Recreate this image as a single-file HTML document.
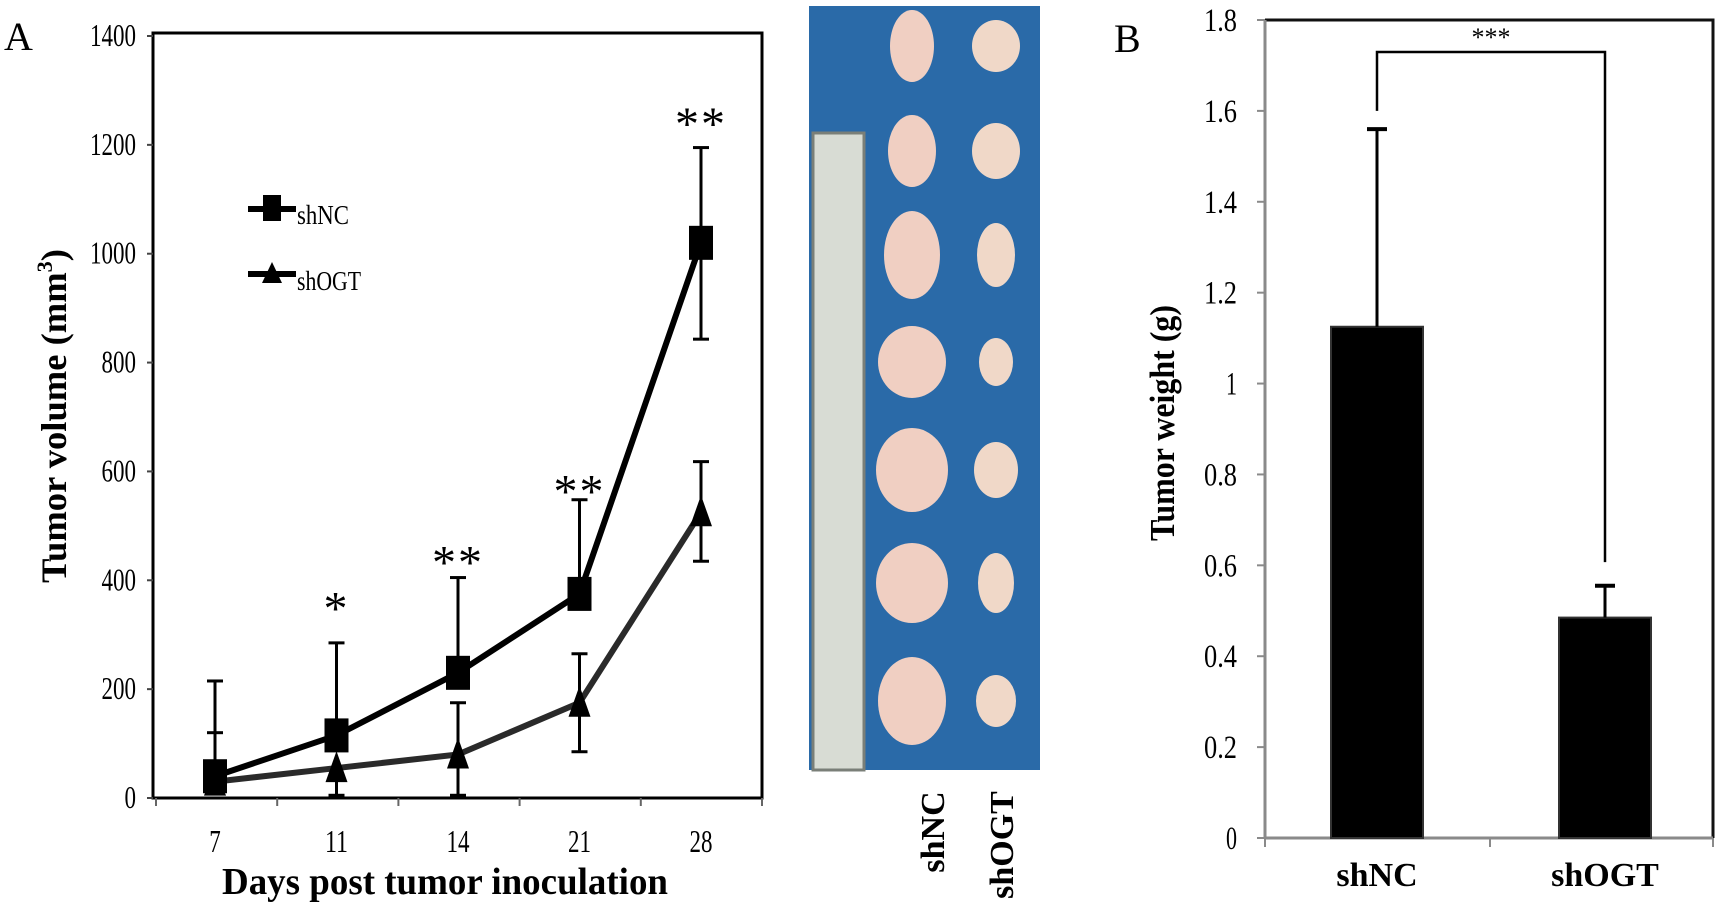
<!DOCTYPE html>
<html><head><meta charset="utf-8"><style>
html,body{margin:0;padding:0;background:#fff}
svg{display:block;font-family:"Liberation Serif",serif}
</style></head><body>
<svg id="fig" width="1724" height="909" viewBox="0 0 1724 909" xmlns="http://www.w3.org/2000/svg">
<text x="4" y="50" font-size="40">A</text>
<rect x="153" y="33" width="609" height="765" fill="none" stroke="#000" stroke-width="3"/>
<g id="ga"></g>
<text transform="translate(66,416) rotate(-90)" text-anchor="middle" font-size="36" font-weight="bold" textLength="334" lengthAdjust="spacingAndGlyphs">Tumor volume (mm<tspan font-size="22" dy="-14">3</tspan><tspan dy="14">)</tspan></text>
<text x="445" y="894" text-anchor="middle" font-size="38" font-weight="bold" textLength="446" lengthAdjust="spacingAndGlyphs">Days post tumor inoculation</text>
<g>
<line x1="248" y1="209" x2="296" y2="209" stroke="#000" stroke-width="6"/>
<rect x="263" y="195" width="18" height="26" fill="#000"/>
<text x="297" y="224" font-size="27" textLength="52" lengthAdjust="spacingAndGlyphs">shNC</text>
<line x1="248" y1="274" x2="296" y2="274" stroke="#000" stroke-width="6"/>
<polygon points="272,262 282,283 262,283" fill="#000"/>
<text x="297" y="290" font-size="27" textLength="64" lengthAdjust="spacingAndGlyphs">shOGT</text>
</g>
<g>
<rect x="809" y="6" width="231" height="764" fill="#2a6aa8"/>
<rect x="813" y="133" width="51" height="637" fill="#d8dcd4" stroke="#7a7f78" stroke-width="3"/>
<g id="tumors"></g>
</g>
<text transform="translate(944,832) rotate(-90)" text-anchor="middle" font-size="34" font-weight="bold">shNC</text>
<text transform="translate(1013,845) rotate(-90)" text-anchor="middle" font-size="34" font-weight="bold">shOGT</text>
<text x="1114" y="52" font-size="40">B</text>
<g id="gb"></g>
<script>
const days=["7","11","14","21","28"];
const shNC=[40,115,230,375,1020];
const shNCup=[215,285,405,548,1195];
const shNClo=[40,115,230,375,843];
const shOGT=[30,55,80,175,525];
const shOGTup=[120,55,175,265,618];
const shOGTlo=[30,5,5,85,435];
const stars=["","*","**","**","**"];
const starY=[0,370,455,585,1260];
const yTicksA=[0,200,400,600,800,1000,1200,1400];
const groups=["shNC","shOGT"];
const weights=[1.125,0.485];
const weightErr=[1.56,0.555];
const yTicksB=[0,0.2,0.4,0.6,0.8,1,1.2,1.4,1.6,1.8];
const yTickLabB=["0","0.2","0.4","0.6","0.8","1","1.2","1.4","1.6","1.8"];
const NS="http://www.w3.org/2000/svg";
function mk(p,t,a){const e=document.createElementNS(NS,t);for(const k in a)e.setAttribute(k,a[k]);p.appendChild(e);return e;}
const ga=document.getElementById('ga');
const ya=v=>798-v*(762/1400);
const xa=i=>215+i*121.5;
yTicksA.forEach(v=>{const s=String(v);const t=mk(ga,'text',{x:136,y:ya(v)+10,'text-anchor':'end','font-size':32,textLength:s.length*11.5,lengthAdjust:'spacingAndGlyphs'});t.textContent=s;


mk(ga,'line',{x1:147,x2:153,y1:ya(v),y2:ya(v),stroke:'#444','stroke-width':2});});
for(let i=0;i<=5;i++){mk(ga,'line',{x1:156+i*121.2,x2:156+i*121.2,y1:798,y2:806,stroke:'#666','stroke-width':2});}
days.forEach((d,i)=>{const t=mk(ga,'text',{x:xa(i),y:852,'text-anchor':'middle','font-size':32,textLength:d.length*11.5,lengthAdjust:'spacingAndGlyphs'});t.textContent=d;

});
function eb(i,lo,hi,col){const x=xa(i);mk(ga,'line',{x1:x,x2:x,y1:ya(lo),y2:ya(hi),stroke:col,'stroke-width':3});
[lo,hi].forEach(v=>mk(ga,'line',{x1:x-8,x2:x+8,y1:ya(v),y2:ya(v),stroke:col,'stroke-width':3}));}
days.forEach((d,i)=>{eb(i,shOGTlo[i],shOGTup[i],'#000');eb(i,shNClo[i],shNCup[i],'#000');});
const pOGT=mk(ga,'polyline',{points:shOGT.map((v,i)=>xa(i)+','+ya(v)).join(' '),fill:'none',stroke:'#2a2a2a','stroke-width':6});


const pNC=mk(ga,'polyline',{points:shNC.map((v,i)=>xa(i)+','+ya(v)).join(' '),fill:'none',stroke:'#000','stroke-width':6});


shOGT.forEach((v,i)=>{const x=xa(i),y=ya(v);const m=mk(ga,'polygon',{points:`${x},${y-17} ${x+11},${y+14} ${x-11},${y+14}`,fill:'#000'});

});
shNC.forEach((v,i)=>{const x=xa(i),y=ya(v);const m=mk(ga,'rect',{x:x-12,y:y-17,width:24,height:34,fill:'#000'});

});
stars.forEach((s,i)=>{if(!s)return;const t=mk(ga,'text',{x:xa(i),y:ya(starY[i])+28,'text-anchor':'middle','font-size':48,'letter-spacing':'2'});t.textContent=s;

});
// photo tumors
const tg=document.getElementById('tumors');
const rowsY=[46,151,255,362,470,583,701];
const lw=[22,24,28,34,36,36,34],lh=[36,36,44,36,42,40,44],rw=[24,24,19,17,22,18,20],rh=[26,28,32,24,28,30,26];
rowsY.forEach((y,i)=>{mk(tg,'ellipse',{cx:912,cy:y,rx:lw[i],ry:lh[i],fill:'#f0cfc2'});
mk(tg,'ellipse',{cx:996,cy:y,rx:rw[i],ry:rh[i],fill:'#f0d8c8'});});
// panel B
const gb=document.getElementById('gb');
const yb=v=>838-v*(818/1.8);
const xb=i=>1377+i*228;
mk(gb,'polyline',{points:'1265,20 1713,20 1713,838',fill:'none',stroke:'#111','stroke-width':3});
mk(gb,'line',{x1:1265,x2:1265,y1:20,y2:838,stroke:'#8a8a8a','stroke-width':3});
mk(gb,'line',{x1:1265,x2:1713,y1:838,y2:838,stroke:'#8a8a8a','stroke-width':3});
yTicksB.forEach((v,i)=>{mk(gb,'line',{x1:1257,x2:1265,y1:yb(v),y2:yb(v),stroke:'#8a8a8a','stroke-width':2});
const s=yTickLabB[i];const t=mk(gb,'text',{x:1237,y:yb(v)+11,'text-anchor':'end','font-size':33,textLength:s.length*11,lengthAdjust:'spacingAndGlyphs'});t.textContent=s;

});
[1265,1490,1713].forEach(x=>mk(gb,'line',{x1:x,x2:x,y1:838,y2:847,stroke:'#8a8a8a','stroke-width':2}));
groups.forEach((g,i)=>{const x=xb(i);
const b=mk(gb,'rect',{x:x-46,y:yb(weights[i]),width:92,height:838-yb(weights[i]),fill:'#000',stroke:'#333','stroke-width':2});


mk(gb,'line',{x1:x,x2:x,y1:yb(weights[i]),y2:yb(weightErr[i]),stroke:'#000','stroke-width':3});
mk(gb,'line',{x1:x-10,x2:x+10,y1:yb(weightErr[i]),y2:yb(weightErr[i]),stroke:'#000','stroke-width':4});
const t=mk(gb,'text',{x:x,y:886,'text-anchor':'middle','font-size':34,'font-weight':'bold'});t.textContent=g;

});
mk(gb,'polyline',{points:`${xb(0)},${yb(1.6)} ${xb(0)},52 ${xb(1)},52 ${xb(1)},${yb(0.607)}`,fill:'none',stroke:'#000','stroke-width':2.5});
const st=mk(gb,'text',{x:(xb(0)+xb(1))/2,y:46,'text-anchor':'middle','font-size':26});st.textContent='***';


const yt=mk(gb,'text',{transform:'translate(1174,423) rotate(-90)','text-anchor':'middle','font-size':35,'font-weight':'bold',textLength:236,lengthAdjust:'spacingAndGlyphs'});yt.textContent='Tumor weight (g)';


</script>
</svg>
</body></html>
